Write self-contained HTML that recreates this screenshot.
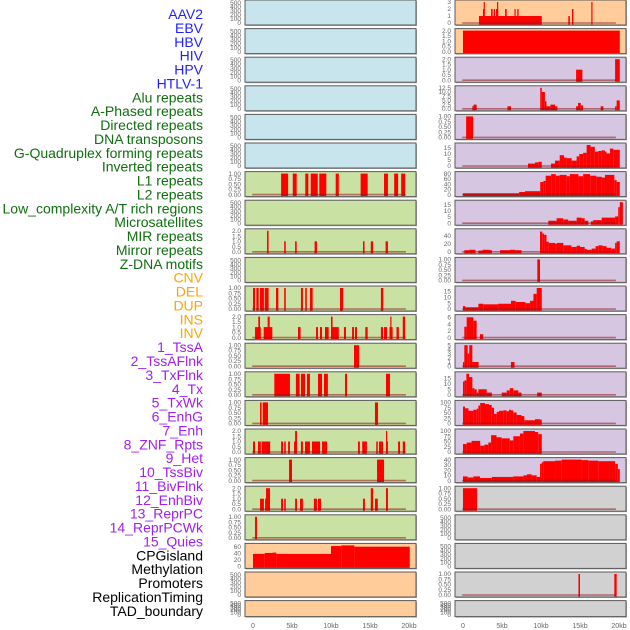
<!DOCTYPE html>
<html><head><meta charset="utf-8"><style>
html,body{margin:0;padding:0;background:#fff;width:630px;height:630px;overflow:hidden}
svg{display:block}
text{font-family:"Liberation Sans",sans-serif}
</style></head><body>
<svg id="chart" width="630" height="630" xmlns="http://www.w3.org/2000/svg"></svg>
<script>
// ---- data ----
const trackLabels = ["AAV2","EBV","HBV","HIV","HPV","HTLV-1","Alu repeats","A-Phased repeats","Directed repeats","DNA transposons","G-Quadruplex forming repeats","Inverted repeats","L1 repeats","L2 repeats","Low_complexity A/T rich regions","Microsatellites","MIR repeats","Mirror repeats","Z-DNA motifs","CNV","DEL","DUP","INS","INV","1_TssA","2_TssAFlnk","3_TxFlnk","4_Tx","5_TxWk","6_EnhG","7_Enh","8_ZNF_Rpts","9_Het","10_TssBiv","11_BivFlnk","12_EnhBiv","13_ReprPC","14_ReprPCWk","15_Quies","CPGisland","Methylation","Promoters","ReplicationTiming","TAD_boundary"];
const labelGroups = ["virus","virus","virus","virus","virus","virus","rep","rep","rep","rep","rep","rep","rep","rep","rep","rep","rep","rep","rep","sv","sv","sv","sv","sv","chm","chm","chm","chm","chm","chm","chm","chm","chm","chm","chm","chm","chm","chm","chm","oth","oth","oth","oth","oth"];
const xTickValues = [0,5,10,15,20];
const xTickLabels = ["0","5kb","10kb","15kb","20kb"];

const tEmpty = [0,100,200,300,400,500];
const tOne = [0,0.25,0.5,0.75,1];
const tTwo = [0,0.5,1,1.5,2];

const alu = [[3.6,4.5,1],[5.1,5.6,1],[6.7,7.1,1],[7.4,8.3,1],[8.5,9.4,1],[10.6,11.0,1],[13.8,14.7,1],[16.8,17.3,1],[18.1,18.6,1],[19.0,19.5,1]];
const directed = [[1.8,2.0,2],[4.0,4.2,1],[5.4,5.6,1],[7.9,8.2,1],[14.1,14.3,1],[15.1,15.4,1],[17.0,17.3,1]];
const gquad = [[0,0.26,1],[0.43,0.73,1],[0.9,1.4,1],[1.5,2.0,1],[2.95,3.25,1],[4.0,4.2,1],[6.15,6.4,1],[6.7,6.9,1],[7.3,7.65,1],[11.15,11.55,1],[16.4,16.7,1]];
const inverted = [[0.26,1.0,1],[0.68,0.9,2],[1.37,2.48,1],[1.88,2.14,2],[5.77,6.1,1],[8.08,8.33,1],[8.59,8.85,1],[9.23,9.7,1],[10.0,11.0,1],[10.0,10.2,2],[11.66,11.92,1],[12.7,12.95,1],[13.08,13.33,1],[14.4,14.7,1],[16.4,16.67,1],[16.8,17.18,1],[17.5,17.9,1],[17.6,17.75,2],[18.4,18.7,1],[19.2,19.5,2]];
const l1 = [[12.95,13.6,1]];
const l2 = [[2.73,4.74,1],[5.5,5.98,1],[6.15,6.67,1],[6.92,7.3,1],[8.33,8.85,1],[9.1,9.6,1],[11.8,12.05,1],[17.05,17.56,1]];
const lowc = [[0.9,1.1,1],[1.24,1.92,1],[15.64,16.03,1]];
const microsat = [[0,0.26,1],[0.64,1.0,1],[1.1,2.2,1],[3.6,3.85,1],[4.0,4.2,1],[4.5,4.74,1],[5.26,5.64,1],[5.4,5.64,2],[6.15,6.4,1],[6.67,7.3,1],[7.56,8.6,1],[8.85,9.5,1],[13.46,13.7,1],[14.0,14.6,1],[15.8,16.0,1],[16.15,16.67,1],[17.05,17.3,1],[17.05,17.2,2],[18.6,18.85,1],[19.2,19.5,1]];
const mir = [[4.62,5.0,1],[15.9,16.8,1]];
const mirror = [[0.9,1.4,1],[1.55,1.67,1],[1.67,2.18,2],[3.6,3.85,1],[4.0,4.2,1],[5.4,5.64,1],[6.03,6.4,1],[7.8,8.2,1],[8.33,8.72,1],[14.1,14.35,1],[15.1,15.4,2],[15.64,16.0,1],[17.05,17.3,2]];
const zdna = [[0.26,0.51,1]];
const cnv = [[0,1.5,38],[1.5,2.5,41],[2.5,3.0,42],[3.0,10.0,38],[10.0,11.3,62],[11.3,13.0,64],[13.0,20.1,60]];
const ins = [[2.05,10.1,1],[2.56,2.73,2],[2.65,2.73,3],[3.6,3.8,2],[3.93,4.1,2],[4.23,4.5,2],[4.36,4.5,3],[5.4,5.6,2],[6.6,6.75,2],[6.96,7.13,2],[13.5,13.7,1],[13.97,14.15,2],[16.45,16.6,3]];
const inv = [[0,20.1,2]];
const tssA = [[14.5,15.3,1],[19.5,20.1,2]];
const tssAFlnk = [[1.2,1.35,1.5],[1.35,1.75,2.5],[5.7,6.15,1.5],[9.9,10.1,12.5],[10.1,10.5,10],[10.5,10.7,4.5],[10.7,11.2,1.5],[11.2,11.8,2.5],[11.8,12.1,1.5],[14.5,14.75,1.5],[14.75,15.1,3.5],[15.1,15.4,2],[17.65,18.0,1.5],[19.5,19.7,1.5],[19.7,20.1,5]];
const txFlnk = [[0.4,1.3,1]];
const tx = [[8.33,9.23,2],[9.23,9.65,3],[9.65,10.1,3.5],[11.28,11.8,2],[11.8,12.4,4.5],[12.4,12.95,9],[12.95,13.3,7],[13.3,13.93,6.5],[13.93,14.57,4.5],[14.57,14.9,8],[14.9,15.4,10],[15.4,15.85,11],[15.85,16.36,17.5],[16.36,16.9,16],[16.9,17.35,12],[17.35,17.77,12.5],[17.77,18.2,13],[18.2,18.4,12],[18.4,18.84,10.5],[18.84,19.27,14.5],[19.27,20.1,13.5]];
const txWk = [[0,7.2,5],[7.2,7.95,10],[7.95,9.9,13],[9.9,10.3,48],[10.3,10.6,52],[10.6,11.3,72],[11.3,11.9,78],[11.9,12.4,72],[12.4,13.3,75],[13.3,13.7,70],[13.7,14.8,78],[14.8,15.4,70],[15.4,16.3,78],[16.3,17.1,72],[17.1,17.8,68],[17.8,18.2,65],[18.2,19.4,75],[19.4,19.7,55],[19.7,20.1,48]];
const enhG = [[10.94,12.0,2],[12.0,12.86,4],[12.86,13.5,3],[13.5,14.57,2],[14.57,15.2,4.5],[15.2,15.6,4],[15.6,16.07,2],[16.4,16.7,1.5],[16.7,17.1,2.5],[17.1,17.78,2.5],[17.78,18.4,4.5],[18.4,19.5,4.5],[19.5,19.9,5.5],[19.9,20.1,13],[20.1,20.5,17]];
const enh = [[0.17,0.8,4],[0.8,1.6,5],[1.97,2.5,3],[2.5,3.4,5],[3.4,3.7,4],[4.75,6.0,4],[6.0,6.7,5],[6.7,7.5,4],[9.87,10.17,50],[10.17,10.4,45],[10.4,10.7,42],[10.7,11.0,25],[11.0,11.8,22],[11.8,12.0,20],[12.0,12.86,22],[12.86,13.9,16],[13.9,14.57,12],[14.57,15.0,15],[15.0,15.6,12],[15.6,15.85,7],[15.85,16.5,5],[16.5,17.0,8],[17.0,17.35,14],[17.35,17.9,16],[17.9,18.4,14],[18.4,19.0,10],[19.0,19.5,8],[19.5,19.7,22],[19.7,20.1,26]];
const znf = [[9.53,9.87,1]];
const het = [[0,0.3,2.5],[0.3,1.97,1.5],[1.97,2.6,4.5],[2.6,4.5,4],[4.5,6.15,4.5],[6.15,6.75,7],[6.75,8.0,6],[8.0,8.6,5],[8.6,9.03,7],[9.03,9.45,13],[9.45,10.1,18]];
const tssBiv = [[0.17,0.47,3.2],[0.47,1.33,6],[1.33,1.75,5],[2.18,2.6,1]];
const bivFlnk = [[0,0.17,1],[0.17,0.6,5],[0.6,0.8,3],[0.8,1.2,5],[1.2,2.0,1],[6.15,6.6,1]];
const enhBiv = [[0,0.17,12],[0.17,0.43,13],[0.43,0.77,19],[0.77,1.2,16],[1.2,1.45,6],[1.45,1.75,5],[1.75,1.97,2],[1.97,3.04,5],[3.04,3.7,2],[4.96,5.6,2],[5.6,6.0,4],[6.0,6.45,6],[6.45,7.1,4],[7.1,7.5,2],[9.5,10.1,2]];
const reprPC = [[0,0.26,80],[0.26,0.7,72],[0.7,1.33,60],[1.33,1.75,65],[1.75,1.97,70],[1.97,2.2,85],[2.2,2.82,97],[2.82,3.33,92],[3.33,3.68,88],[3.68,3.98,75],[3.98,4.32,45],[4.32,4.62,55],[4.62,5.17,60],[5.17,5.6,62],[5.6,5.9,58],[5.9,6.15,65],[6.15,6.45,62],[6.45,6.88,52],[6.88,7.5,40],[7.5,7.86,35],[7.86,9.23,15],[9.23,9.87,20],[9.87,10.1,18]];
const reprPCWk = [[0,0.47,38],[0.47,1.1,45],[1.1,2.2,53],[2.2,2.74,30],[2.74,3.25,35],[3.25,3.6,45],[3.6,4.3,80],[4.3,4.96,70],[4.96,6.0,65],[6.0,6.45,55],[6.45,7.3,75],[7.3,7.74,88],[7.74,9.23,100],[9.23,9.65,95],[9.65,10.1,85]];
const quies = [[0,0.6,8],[0.6,1.33,6],[1.33,2.18,8],[2.18,3.7,5],[3.7,6.45,7],[6.45,7.74,8],[7.74,8.2,10],[8.2,8.8,12],[8.8,9.45,10],[9.45,9.87,7],[9.87,10.1,32],[10.1,10.3,35],[10.3,11.8,37],[11.8,12.65,38],[12.65,15.2,40],[15.2,16.07,39],[16.07,17.35,38],[17.35,19.5,37],[19.5,19.85,32],[19.85,20.1,22]];
const cpg = [[0,1.8,1]];
const replTiming = [[14.8,15.0,1],[19.4,19.7,1]];

// panels: [column, row, fillKey, segments, axisTop, ticks, tickDecimals, baseline]
const panels = [
 [0,0,"virus",[],520,tEmpty,0,false],[0,1,"virus",[],520,tEmpty,0,false],[0,2,"virus",[],520,tEmpty,0,false],
 [0,3,"virus",[],520,tEmpty,0,false],[0,4,"virus",[],520,tEmpty,0,false],[0,5,"virus",[],520,tEmpty,0,false],
 [0,6,"rep",alu,1,tOne,2,true],[0,7,"rep",[],520,tEmpty,0,false],[0,8,"rep",directed,2,tTwo,1,true],
 [0,9,"rep",[],520,tEmpty,0,false],[0,10,"rep",gquad,1,tOne,2,true],[0,11,"rep",inverted,2,tTwo,1,true],
 [0,12,"rep",l1,1,tOne,2,true],[0,13,"rep",l2,1,tOne,2,true],[0,14,"rep",lowc,1,tOne,2,true],
 [0,15,"rep",microsat,2,tTwo,1,true],[0,16,"rep",mir,1,tOne,2,true],[0,17,"rep",mirror,2,tTwo,1,true],
 [0,18,"rep",zdna,1,tOne,2,true],[0,19,"sv",cnv,64,[0,20,40,60],0,false],[0,20,"sv",[],520,tEmpty,0,false],[0,21,"sv",[],520,tEmpty,0,false],
 [1,0,"sv",ins,3,[0,1,2,3],0,true],[1,1,"sv",inv,2,tTwo,1,false],[1,2,"chm",tssA,2,tTwo,1,true],
 [1,3,"chm",tssAFlnk,12.5,[0,2.5,5,7.5,10,12.5],1,true],[1,4,"chm",txFlnk,1,tOne,2,true],[1,5,"chm",tx,17.5,[0,5,10,15],0,true],
 [1,6,"chm",txWk,80,[0,20,40,60,80],0,true],[1,7,"chm",enhG,17,[0,5,10,15],0,true],[1,8,"chm",enh,52,[0,20,40],0,true],
 [1,9,"chm",znf,1,tOne,2,true],[1,10,"chm",het,18,[0,5,10,15],0,true],[1,11,"chm",tssBiv,6.2,[0,2,4,6],0,true],
 [1,12,"chm",bivFlnk,5,[0,1,2,3,4,5],0,true],[1,13,"chm",enhBiv,19,[0,5,10,15],0,true],[1,14,"chm",reprPC,100,[0,25,50,75,100],0,true],
 [1,15,"chm",reprPCWk,100,[0,25,50,75,100],0,true],[1,16,"chm",quies,40,[0,10,20,30,40],0,true],[1,17,"oth",cpg,1,tOne,2,true],
 [1,18,"oth",[],520,tEmpty,0,false],[1,19,"oth",[],520,tEmpty,0,false],[1,20,"oth",replTiming,1,tOne,2,true],[1,21,"oth",[],520,tEmpty,0,false]
];

// ---- render ----
const NS="http://www.w3.org/2000/svg";
const svg=document.getElementById('chart');
const fills={virus:"#c8e4ec",rep:"#c9e1a2",sv:"#ffcc9a",chm:"#d6c6e2",oth:"#d1d1d1"};
const labelColors={virus:"#1f1fff",rep:"#0f6e0f",sv:"#ffa500",chm:"#a020f0",oth:"#000000"};
const colLeft=[245,455], panelW=171, zeroX=[253,463], pxPerKb=7.8;
const rowTop=r=>r*28.6, rowH=r=>r===21?16:25;
function xScale(c,kb){return zeroX[c]+kb*pxPerKb;}
function yScale(top,h,axisTop,v){return top+h-2-(v/axisTop)*(h-4);}
function mk(tag,attrs){const e=document.createElementNS(NS,tag);for(const k in attrs)e.setAttribute(k,attrs[k]);return e;}

trackLabels.forEach((lab,i)=>{
  const t=mk('text',{x:203,y:19+i*13.88,'text-anchor':'end','font-size':14,fill:labelColors[labelGroups[i]]});
  t.textContent=lab;
  
  
  svg.appendChild(t);
});

panels.forEach(p=>{
  const [c,r,key,segs,axisTop,ticks,dec,base]=p;
  const top=rowTop(r), h=rowH(r), x0=colLeft[c];
  const g=mk('g',{});
  
  
  svg.appendChild(g);
  g.appendChild(mk('rect',{x:x0+1,y:top+1,width:panelW,height:h,fill:'#a8a8a8'}));
  g.appendChild(mk('rect',{x:x0,y:top,width:panelW,height:h,fill:fills[key]}));
  segs.forEach(s=>{
    const xa=xScale(c,s[0]), xb=xScale(c,s[1]);
    const ya=yScale(top,h,axisTop,Math.min(s[2],axisTop*1.02));
    const b=mk('rect',{x:xa,y:Math.max(ya,top+0.5),width:Math.max(xb-xa,1.2),height:top+h-2-Math.max(ya,top+0.5)+1.5,fill:'#ff0000'});
    
    
    g.appendChild(b);
  });
  if(base){
    const yb=top+h-2;
    g.appendChild(mk('line',{x1:xScale(c,-0.1),x2:xScale(c,19.6),y1:yb,y2:yb,stroke:'rgba(150,20,20,0.55)','stroke-width':1.6}));
  }
  g.appendChild(mk('rect',{x:x0,y:top,width:panelW,height:h,fill:'none',stroke:'#5a5a5a','stroke-width':1}));
  ticks.forEach(tv=>{
    const y=yScale(top,h,axisTop,tv);
    const t=mk('text',{x:x0-4,y:y+2.2,'text-anchor':'end','font-size':6.5,fill:'#666'});
    t.textContent=tv.toFixed(dec);
    
    
    g.appendChild(t);
  });
});

[0,1].forEach(c=>{
  xTickValues.forEach((v,i)=>{
    const t=mk('text',{x:xScale(c,v),y:628,'text-anchor':'middle','font-size':7,fill:'#666'});
    t.textContent=xTickLabels[i];
    
    
    svg.appendChild(t);
  });
});
</script>
</body></html>
